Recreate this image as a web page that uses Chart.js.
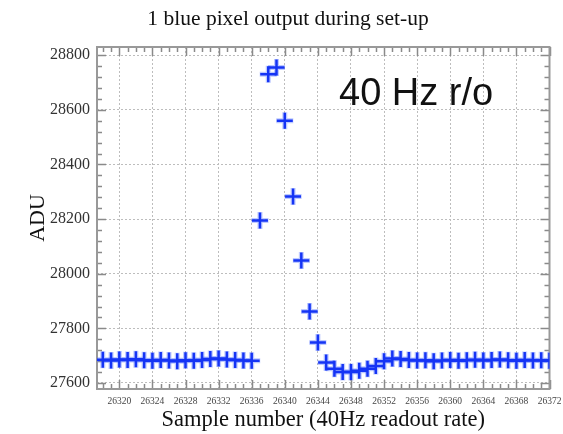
<!DOCTYPE html>
<html>
<head>
<meta charset="utf-8">
<script src="https://cdn.jsdelivr.net/npm/chart.js@4.4.1/dist/chart.umd.min.js"></script>
<style>
    body { margin: 0; background: #fff; }
    canvas { display: block; }
</style>
</head>
<body>
<canvas id="pixelChart" width="563" height="434"></canvas>
<script>
// sample numbers and the ADU read for each one
const sampleNumbers = [
    26318, 26319, 26320, 26321, 26322, 26323, 26324, 26325, 26326, 26327,
    26328, 26329, 26330, 26331, 26332, 26333, 26334, 26335, 26336, 26337,
    26338, 26339, 26340, 26341, 26342, 26343, 26344, 26345, 26346, 26347,
    26348, 26349, 26350, 26351, 26352, 26353, 26354, 26355, 26356, 26357,
    26358, 26359, 26360, 26361, 26362, 26363, 26364, 26365, 26366, 26367,
    26368, 26369, 26370, 26371, 26372
];
const aduValues = [
    27685, 27682, 27686, 27684, 27687, 27683, 27681, 27684, 27682, 27680,
    27683, 27681, 27684, 27688, 27690, 27686, 27684, 27682, 27681, 28195,
    28730, 28755, 28560, 28283, 28048, 27862, 27748, 27675, 27652, 27640,
    27640, 27645, 27652, 27662, 27680, 27690, 27688, 27684, 27682, 27683,
    27680, 27682, 27684, 27681, 27683, 27685, 27682, 27684, 27686, 27683,
    27681, 27684, 27682, 27683, 27681
];
const xTickLabels = [26320, 26324, 26328, 26332, 26336, 26340, 26344, 26348, 26352, 26356, 26360, 26364, 26368, 26372];
const yTickLabels = [27600, 27800, 28000, 28200, 28400, 28600, 28800];

const chartTitle = "1 blue pixel output during set-up";
const noteText = "40 Hz r/o";
const xTitle = "Sample number (40Hz readout rate)";
const yTitle = "ADU";

const points = sampleNumbers.map((x, i) => ({ x: x, y: aduValues[i] }));

// inward tick marks on all four sides, plus the frame, title and note
const framePlugin = {
    id: "frame",
    beforeDatasetsDraw(chart) {
        const { ctx, chartArea: a, scales: { x, y } } = chart;
        ctx.save();
        ctx.strokeStyle = "#8a8a8a";
        ctx.lineWidth = 1.5;
        ctx.beginPath();
        for (let v = Math.ceil(x.min); v <= x.max; v++) {
            const px = Math.round(x.getPixelForValue(v)) + 0.5;
            const len = xTickLabels.includes(v) ? 9 : 5;
            ctx.moveTo(px, a.bottom); ctx.lineTo(px, a.bottom - len);
            ctx.moveTo(px, a.top); ctx.lineTo(px, a.top + len);
        }
        for (let v = 27600; v <= y.max; v += 40) {
            const py = Math.round(y.getPixelForValue(v)) + 0.5;
            const len = yTickLabels.includes(v) ? 9 : 5;
            ctx.moveTo(a.left, py); ctx.lineTo(a.left + len, py);
            ctx.moveTo(a.right, py); ctx.lineTo(a.right - len, py);
        }
        ctx.stroke();
        ctx.lineWidth = 2;
        ctx.strokeStyle = "#999";
        ctx.strokeRect(a.left, a.top, a.right - a.left, a.bottom - a.top);
        ctx.restore();
    },
    afterDraw(chart) {
        const { ctx } = chart;
        ctx.save();
        ctx.fillStyle = "#111";
        ctx.font = '21.5px "Liberation Serif"';
        ctx.textAlign = "center";
        ctx.textBaseline = "middle";
        ctx.fillText(chartTitle, 288, 19);
        ctx.font = '38px "Liberation Sans"';
        ctx.textAlign = "left";
        ctx.textBaseline = "alphabetic";
        ctx.fillText(noteText, 339, 105);
        ctx.restore();
    }
};

new Chart(document.getElementById("pixelChart"), {
    type: "scatter",
    data: {
        datasets: [
            {
                data: points,
                pointStyle: "cross",
                radius: 8,
                borderWidth: 2.5,
                borderColor: "#1534f5",
                backgroundColor: "transparent"
            },
            {
                data: points,
                pointStyle: "cross",
                radius: 8.5,
                borderWidth: 5,
                borderColor: "rgba(90,120,255,0.4)",
                backgroundColor: "transparent"
            }
        ]
    },
    options: {
        animation: false,
        responsive: false,
        layout: { padding: { top: 47, right: 11, bottom: 0, left: 0 } },
        plugins: {
            legend: { display: false },
            tooltip: { enabled: false }
        },
        scales: {
            x: {
                type: "linear",
                min: 26317.3,
                max: 26372,
                afterBuildTicks: scale => { scale.ticks = xTickLabels.map(v => ({ value: v })); },
                afterFit: scale => {
                    scale.height = 45;
                    scale.paddingLeft = 0;
                    scale.paddingRight = 0;
                },
                grid: { color: "#bdbdbd", lineWidth: 1, drawTicks: false },
                border: { display: false, dash: [2, 2] },
                ticks: {
                    padding: 7,
                    maxRotation: 0,
                    autoSkip: false,
                    color: "#444",
                    font: { family: "Liberation Serif", size: 9.5 },
                    callback: value => String(value)
                },
                title: {
                    display: true,
                    text: xTitle,
                    color: "#111",
                    padding: { top: 0, bottom: 0 },
                    font: { family: "Liberation Serif", size: 22.5 }
                }
            },
            y: {
                min: 27578,
                max: 28830,
                afterBuildTicks: scale => { scale.ticks = yTickLabels.map(v => ({ value: v })); },
                afterFit: scale => {
                    scale.width = 97;
                    scale.paddingTop = 0;
                    scale.paddingBottom = 0;
                },
                grid: { color: "#bdbdbd", lineWidth: 1, drawTicks: false },
                border: { display: false, dash: [2, 2] },
                ticks: {
                    padding: 7,
                    color: "#333",
                    font: { family: "Liberation Serif", size: 16 },
                    callback: value => String(value)
                },
                title: {
                    display: true,
                    text: yTitle,
                    color: "#111",
                    padding: { top: 25, bottom: 0 },
                    font: { family: "Liberation Serif", size: 22 }
                }
            }
        }
    },
    plugins: [framePlugin]
});
</script>
</body>
</html>
